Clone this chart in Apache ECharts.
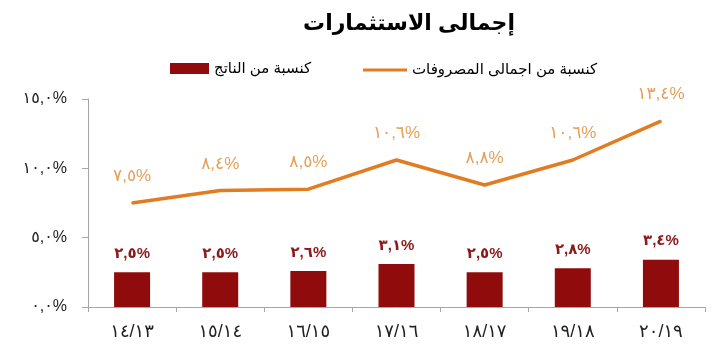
<!DOCTYPE html>
<html><head><meta charset="utf-8">
<script src="https://cdn.jsdelivr.net/npm/echarts@6/dist/echarts.min.js"></script>
<style>html,body{margin:0;padding:0;background:#fff;}#c{width:720px;height:355px;}</style>
</head><body><div id="c"></div>
<script>
const categories = ['١٤/١٣','١٥/١٤','١٦/١٥','١٧/١٦','١٨/١٧','١٩/١٨','٢٠/١٩'];
const gdpShare = [2.5, 2.5, 2.6, 3.1, 2.5, 2.8, 3.4];
const spendingShare = [7.5, 8.4, 8.5, 10.6, 8.8, 10.6, 13.4];
const seriesNames = ['كنسبة من الناتج', 'كنسبة من اجمالى المصروفات'];
const titleText = 'إجمالى الاستثمارات';

const digits = '٠١٢٣٤٥٦٧٨٩';
function ar(v){
  return v.toFixed(1).replace(/[0-9]/g, d => digits[+d]).replace('.', ',') + '%';
}
const FONT = '"Liberation Sans", Arial, "DejaVu Sans", sans-serif';

const chart = echarts.init(document.getElementById('c'));
chart.setOption({
  animation: false,
  title: {
    text: titleText, left: 404, top: 8, textAlign: 'center',
    textStyle: {fontFamily: FONT, fontSize: 22, fontWeight: 'bold', color: '#000'}
  },
  legend: [
    {data: [{name: seriesNames[0], icon: 'rect'}], left: 165, top: 56, itemWidth: 39, itemHeight: 11, itemGap: 5,
     textStyle: {fontFamily: FONT, fontSize: 15, color: '#000'}},
    {data: [{name: seriesNames[1], icon: 'rect', itemStyle: {color: '#e27c22'}}],
     left: 358, top: 56, itemWidth: 44, itemHeight: 3,
     textStyle: {fontFamily: FONT, fontSize: 15, color: '#000', lineHeight: 18}}
  ],
  grid: {left: 88, right: 15, top: 99, bottom: 48},
  xAxis: {
    type: 'category', data: categories, boundaryGap: true,
    axisLine: {lineStyle: {color: '#a6a6a6', width: 1}},
    axisTick: {show: true, length: 5, lineStyle: {color: '#a6a6a6'}},
    axisLabel: {fontFamily: FONT, fontSize: 18, color: '#222', margin: 16}
  },
  yAxis: {
    type: 'value', min: 0, max: 15, interval: 5,
    axisLine: {show: true, lineStyle: {color: '#a6a6a6', width: 1}},
    axisTick: {show: true, length: 6, lineStyle: {color: '#a6a6a6'}},
    splitLine: {show: false},
    axisLabel: {fontFamily: FONT, fontSize: 16, color: '#222', margin: 21, formatter: v => ar(v)}
  },
  series: [
    {
      name: seriesNames[0], type: 'bar', data: gdpShare, barWidth: 36,
      itemStyle: {color: '#900b0b'},
      label: {show: true, position: 'top', distance: 11, formatter: p => ar(p.value),
              fontFamily: FONT, fontSize: 15, fontWeight: 'bold', color: '#8b1a1a'}
    },
    {
      name: seriesNames[1], type: 'line', data: spendingShare,
      symbol: 'circle', symbolSize: 2, showSymbol: true,
      lineStyle: {color: '#e27c22', width: 3.5},
      itemStyle: {color: '#e27c22'},
      label: {show: true, position: 'top', distance: 17, formatter: p => ar(p.value),
              fontFamily: FONT, fontSize: 17, color: '#e3a05a'}
    }
  ]
});
</script></body></html>
